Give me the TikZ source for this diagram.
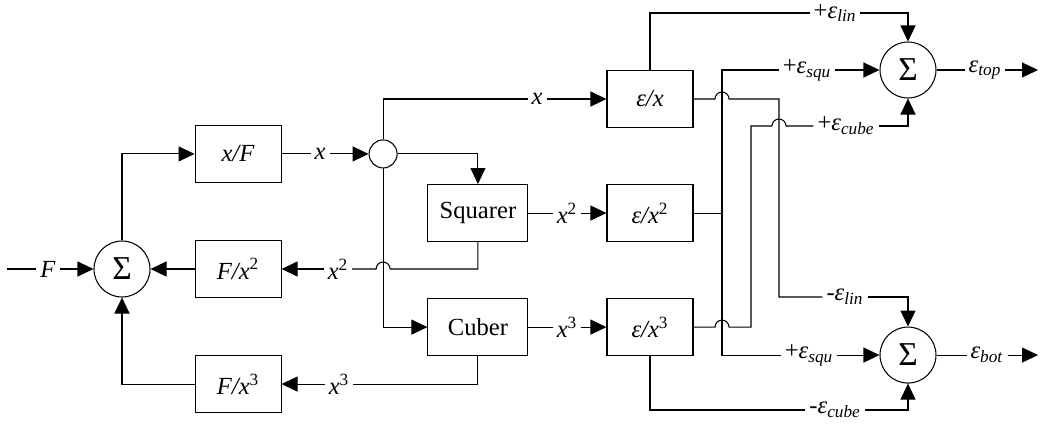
\documentclass[tikz,border=0pt]{standalone}
\usepackage{fontspec}
\setmainfont{Liberation Serif}
\usetikzlibrary{arrows.meta,positioning,calc}
\tikzset{
  blk/.style = {draw, rectangle, minimum width=1.72cm, minimum height=1.14cm, inner sep=2pt, font=\fontsize{14}{16}\selectfont},
  sumc/.style = {draw, circle, minimum size=1.12cm, inner sep=0pt, font=\fontsize{19}{21}\selectfont},
  jn/.style = {draw, circle, minimum size=0.56cm, inner sep=0pt},
  lbl/.style = {inner sep=2pt, font=\fontsize{14}{16}\selectfont},
  arrow/.style = {-{Triangle[length=0.32cm,width=0.3cm]}}
}
\newcommand{\er}[1]{\textit{ε}\textsubscript{\textit{#1}}}

\begin{document}
\begin{tikzpicture}[line width=0.6pt]
\useasboundingbox (0,0) rectangle (20.86,-8.60);
% force loop
\node[sumc] (sL) at (2.44,-5.38) {Σ};
\node[blk, right=0.88cm of sL] (Fx2) {\textit{F/x}\textsuperscript{2}};
\node[blk, above=1.14cm of Fx2] (xF) {\textit{x/F}};
\node[blk, below=1.14cm of Fx2] (Fx3) {\textit{F/x}\textsuperscript{3}};
\node[jn, right=1.74cm of xF] (sp) {};
% error blocks
\node[blk] (ex) at (13.0,-1.98) {\textit{ε/x}};
\node[blk, below=1.12cm of ex] (ex2) {\textit{ε/x}\textsuperscript{2}};
\node[blk, below=1.12cm of ex2] (ex3) {\textit{ε/x}\textsuperscript{3}};
\node[blk, minimum width=2cm, left=1.56cm of ex2] (sq) {Squarer};
\node[blk, minimum width=2cm, left=1.56cm of ex3] (cub) {Cuber};
% output sums
\node[sumc] (sT) at (18.16,-1.40) {Σ};
\node[sumc, below=4.56cm of sT] (sB) {Σ};

% labels on the lines
\coordinate (in) at (0.14,0 |- sL);
\node[lbl] (lF) at (0.96,0 |- sL) {\textit{F}};
\node[lbl] (lx1) at (6.40,0 |- xF) {\textit{x}};
\node[lbl] (lx0) at (10.74,0 |- ex) {\textit{x}};
\node[lbl] (lq1) at (11.34,0 |- ex2) {\textit{x}\textsuperscript{2}};
\node[lbl] (lc1) at (11.34,0 |- ex3) {\textit{x}\textsuperscript{3}};
\node[lbl] (lq2) at (6.76,0 |- sL) {\textit{x}\textsuperscript{2}};
\node[lbl] (lc2) at (6.78,0 |- Fx3) {\textit{x}\textsuperscript{3}};
\node[lbl] (lLin) at (16.70,-0.26) {+\er{lin}};
\node[lbl] (lSqT) at (16.14,0 |- sT) {+\er{squ}};
\node[lbl] (lCube) at (16.92,-2.52) {+\er{cube}};
\node[lbl] (lTop) at (19.70,0 |- sT) {\er{top}};
\node[lbl] (lmLin) at (16.90,-5.94) {-\er{lin}};
\node[lbl] (lSqB) at (16.18,0 |- sB) {+\er{squ}};
\node[lbl] (lmCube) at (16.70,-8.20) {-\er{cube}};
\node[lbl] (lBot) at (19.74,0 |- sB) {\er{bot}};
\coordinate (oT) at (20.76,0 |- sT);
\coordinate (oB) at (20.76,0 |- sB);

% left side
\draw (in) -- (lF);
\draw[arrow] (lF) -- (sL);
\draw[arrow] (sL) |- (xF);
\draw (xF) -- (lx1);
\draw[arrow] (lx1) -- (sp);
\draw (sp) |- (lx0);
\draw[arrow] (lx0) -- (ex);
\draw[arrow] (sp) -| (sq);
\draw[arrow] (sp) |- (cub);
\draw (sq) -- (lq1);
\draw[arrow] (lq1) -- (ex2);
\draw (cub) -- (lc1);
\draw[arrow] (lc1) -- (ex3);
\draw (sq.south) |- ($(sp.south |- sL)+(0.14,0)$) arc[start angle=0, end angle=180, radius=0.14cm] -- (lq2);
\draw[arrow] (lq2) -- (Fx2);
\draw (cub.south) |- (lc2);
\draw[arrow] (lc2) -- (Fx3);
\draw[arrow] (Fx2) -- (sL);
\draw[arrow] (Fx3) -| (sL);

% right side
\draw (ex.north) |- (lLin);
\draw[arrow] (lLin) -| (sT);
\coordinate (jq) at (14.44,0 |- ex2);
\draw (ex2) -- (jq);
\draw (lSqT) -| (jq) |- (lSqB);
\draw[arrow] (lSqT) -- (sT);
\draw[arrow] (lSqB) -- (sB);
\draw (ex.east) -- ($(14.44,0 |- ex.east)+(-0.14,0)$) arc[start angle=180, end angle=0, radius=0.14cm] -- (15.58,0 |- ex.east) |- (lmLin);
\draw[arrow] (lmLin) -| (sB);
\draw (ex3.east) -- ($(14.44,0 |- ex3.east)+(-0.14,0)$) arc[start angle=180, end angle=0, radius=0.14cm] -- (15.02,0 |- ex3.east) |- ($(15.58,0 |- lCube)+(-0.14,0)$) arc[start angle=180, end angle=0, radius=0.14cm] -- (lCube);
\draw[arrow] (lCube) -| (sT);
\draw (ex3.south) |- (lmCube);
\draw[arrow] (lmCube) -| (sB);
\draw (sT) -- (lTop);
\draw[arrow] (lTop) -- (oT);
\draw (sB) -- (lBot);
\draw[arrow] (lBot) -- (oB);
\end{tikzpicture}
\end{document}
